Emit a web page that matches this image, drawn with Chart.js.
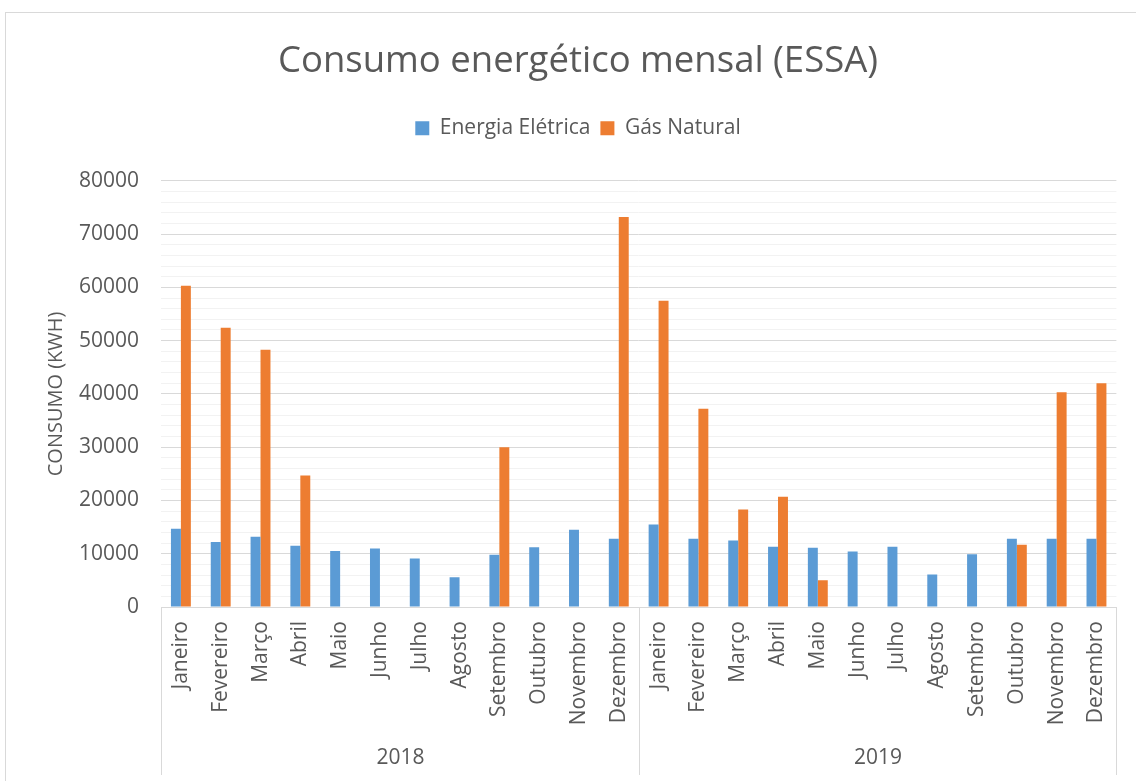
<!DOCTYPE html>
<html>
<head>
<meta charset="utf-8">
<script src="https://cdn.jsdelivr.net/npm/chart.js@4/dist/chart.umd.min.js"></script>
<style>
  html, body { margin: 0; padding: 0; background: #fff; overflow: hidden; }
  .frame { position: absolute; left: 5px; top: 12px; width: 1300px; height: 900px; border: 1px solid #d9d9d9; }
  .wrap { position: absolute; left: 0; top: 0; width: 1136px; height: 781px; }
</style>
</head>
<body>
<div class="frame"></div>
<div class="wrap"><canvas class="js-chart"></canvas></div>
<script>
// data
const years = ['2018', '2019'];
const months = ['Janeiro', 'Fevereiro', 'Março', 'Abril', 'Maio', 'Junho',
  'Julho', 'Agosto', 'Setembro', 'Outubro', 'Novembro', 'Dezembro'];
const energiaEletrica = [14700, 12200, 13200, 11500, 10500, 11000, 9100, 5600, 9800, 11200, 14500, 12800,
  15500, 12800, 12500, 11300, 11100, 10400, 11300, 6100, 9900, 12800, 12800, 12800];
const gasNatural = [60300, 52400, 48300, 24700, null, null, null, null, 30000, null, null, 73200,
  57500, 37200, 18300, 20700, 5000, null, null, null, null, 11700, 40300, 42000];
const yTicks = [0, 10000, 20000, 30000, 40000, 50000, 60000, 70000, 80000];

const textColor = '#595959';
const font = 'Open Sans';

// extra room under the legend
const legendSpacer = {
  id: 'legendSpacer',
  beforeInit(chart) {
    const fit = chart.legend.fit;
    chart.legend.fit = function fitWithSpace() {
      fit.bind(chart.legend)();
      this.height += 32;
    };
  },
};

// second row of the x axis: years with separator lines
const yearGroups = {
  id: 'yearGroups',
  afterDraw(chart) {
    const { ctx } = chart;
    const x = chart.scales.x;
    const per = months.length;
    const half = (x.getPixelForTick(1) - x.getPixelForTick(0)) / 2;
    ctx.save();
    ctx.strokeStyle = '#d9d9d9';
    ctx.lineWidth = 1;
    ctx.fillStyle = textColor;
    ctx.font = `21px ${font}`;
    ctx.textAlign = 'center';
    ctx.textBaseline = 'middle';
    years.forEach((year, i) => {
      const start = Math.round(x.getPixelForTick(i * per) - half) + 0.5;
      const end = Math.round(x.getPixelForTick(i * per + per - 1) + half) + 0.5;
      ctx.beginPath();
      ctx.moveTo(start, x.top);
      ctx.lineTo(start, x.top + 168);
      ctx.moveTo(end, x.top);
      ctx.lineTo(end, x.top + 168);
      ctx.stroke();
      ctx.fillText(year, (start + end) / 2, x.top + 151);
    });
    ctx.restore();
  },
};

const ctx = document.querySelector('.js-chart').getContext('2d');

new Chart(ctx, {
  type: 'bar',
  data: {
    labels: years.flatMap(() => months),
    datasets: [
      {
        label: 'Energia Elétrica',
        data: energiaEletrica,
        backgroundColor: '#5b9bd5',
        categoryPercentage: 0.5,
        barPercentage: 1,
      },
      {
        label: 'Gás Natural',
        data: gasNatural,
        backgroundColor: '#ed7d31',
        categoryPercentage: 0.5,
        barPercentage: 1,
      },
    ],
  },
  plugins: [legendSpacer, yearGroups],
  options: {
    responsive: true,
    maintainAspectRatio: false,
    animation: false,
    layout: { padding: { top: 0, left: 36, right: 16, bottom: 0 } },
    plugins: {
      tooltip: { enabled: false },
      title: {
        display: true,
        text: 'Consumo energético mensal (ESSA)',
        color: textColor,
        font: { family: font, size: 36.5, weight: 'normal' },
        padding: { top: 40, bottom: 24 },
      },
      legend: {
        position: 'top',
        labels: {
          color: textColor,
          boxWidth: 14,
          boxHeight: 14,
          padding: 10,
          font: { family: font, size: 21 },
        },
      },
    },
    scales: {
      x: {
        grid: { display: false, drawTicks: false },
        border: { color: '#d9d9d9' },
        ticks: {
          color: textColor,
          font: { family: font, size: 21 },
          minRotation: 90,
          maxRotation: 90,
          autoSkip: false,
          padding: 14,
        },
        afterFit(scale) { scale.height = 174; },
      },
      y: {
        min: 0,
        max: yTicks[yTicks.length - 1],
        border: { display: false },
        grid: {
          drawTicks: false,
          color: (c) => (yTicks.includes(c.tick.value) ? '#d9d9d9' : '#f2f2f2'),
        },
        ticks: {
          stepSize: 2000,
          autoSkip: false,
          color: textColor,
          font: { family: font, size: 21 },
          padding: 22,
          callback: (v) => (yTicks.includes(v) ? String(v) : ''),
        },
        title: {
          display: true,
          text: 'CONSUMO (KWH)',
          color: textColor,
          font: { family: font, size: 20 },
          padding: { top: 8, bottom: 4 },
        },
        afterFit(scale) { scale.width = 125; },
      },
    },
  },
});
</script>
</body>
</html>
